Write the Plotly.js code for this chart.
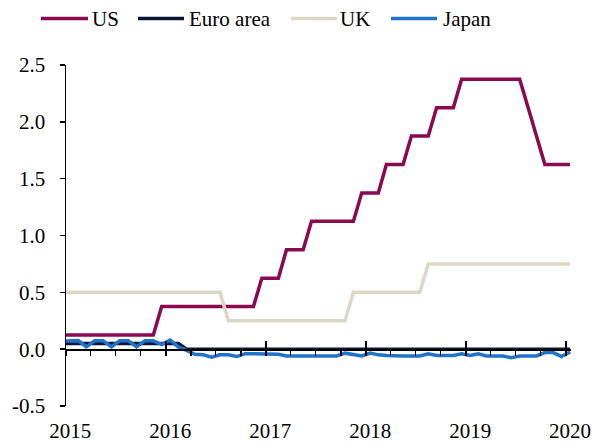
<!DOCTYPE html>
<html>
<head>
<meta charset="utf-8">
<script src="https://cdn.plot.ly/plotly-3.0.1.min.js"></script>
<style>
html,body{margin:0;padding:0;background:#fff;}
#chart{width:595px;height:446px;}
</style>
</head>
<body>
<div id="chart"></div>
<script>
// Monthly observations, Dec 2014 .. Jan 2020
const months = [
  "2014-12",
  "2015-01","2015-02","2015-03","2015-04","2015-05","2015-06","2015-07","2015-08","2015-09","2015-10","2015-11","2015-12",
  "2016-01","2016-02","2016-03","2016-04","2016-05","2016-06","2016-07","2016-08","2016-09","2016-10","2016-11","2016-12",
  "2017-01","2017-02","2017-03","2017-04","2017-05","2017-06","2017-07","2017-08","2017-09","2017-10","2017-11","2017-12",
  "2018-01","2018-02","2018-03","2018-04","2018-05","2018-06","2018-07","2018-08","2018-09","2018-10","2018-11","2018-12",
  "2019-01","2019-02","2019-03","2019-04","2019-05","2019-06","2019-07","2019-08","2019-09","2019-10","2019-11","2019-12",
  "2020-01"
];

const us = [
  0.125,
  0.125,0.125,0.125,0.125,0.125,0.125,0.125,0.125,0.125,0.125,0.125,0.375,
  0.375,0.375,0.375,0.375,0.375,0.375,0.375,0.375,0.375,0.375,0.375,0.625,
  0.625,0.625,0.875,0.875,0.875,1.125,1.125,1.125,1.125,1.125,1.125,1.375,
  1.375,1.375,1.625,1.625,1.625,1.875,1.875,1.875,2.125,2.125,2.125,2.375,
  2.375,2.375,2.375,2.375,2.375,2.375,2.375,2.125,1.875,1.625,1.625,1.625,
  1.625
];

const euro = [
  0.05,
  0.05,0.05,0.05,0.05,0.05,0.05,0.05,0.05,0.05,0.05,0.05,0.05,
  0.05,0.05,0,0,0,0,0,0,0,0,0,0,
  0,0,0,0,0,0,0,0,0,0,0,0,
  0,0,0,0,0,0,0,0,0,0,0,0,
  0,0,0,0,0,0,0,0,0,0,0,0,
  0
];

const uk = [
  0.5,
  0.5,0.5,0.5,0.5,0.5,0.5,0.5,0.5,0.5,0.5,0.5,0.5,
  0.5,0.5,0.5,0.5,0.5,0.5,0.5,0.25,0.25,0.25,0.25,0.25,
  0.25,0.25,0.25,0.25,0.25,0.25,0.25,0.25,0.25,0.25,0.5,0.5,
  0.5,0.5,0.5,0.5,0.5,0.5,0.5,0.75,0.75,0.75,0.75,0.75,
  0.75,0.75,0.75,0.75,0.75,0.75,0.75,0.75,0.75,0.75,0.75,0.75,
  0.75
];

const japan = [
  0.07,
  0.075,0.075,0.02,0.075,0.075,0.02,0.075,0.075,0.02,0.075,0.075,0.04,
  0.08,0.02,-0.01,-0.045,-0.05,-0.07,-0.05,-0.05,-0.065,-0.04,-0.04,-0.04,
  -0.04,-0.045,-0.06,-0.06,-0.06,-0.06,-0.06,-0.06,-0.06,-0.035,-0.05,-0.06,
  -0.035,-0.05,-0.055,-0.06,-0.06,-0.06,-0.06,-0.04,-0.055,-0.055,-0.055,-0.04,
  -0.055,-0.04,-0.06,-0.06,-0.06,-0.075,-0.06,-0.06,-0.06,-0.03,-0.03,-0.065,
  -0.025
];

const seriesNames = ["US","Euro area","UK","Japan"];
const seriesColors = ["#8a0a52","#0b1538","#ddd8c6","#1f74c9"];
const yearLabels = ["2015","2016","2017","2018","2019","2020"];
const yTickVals = [-0.5,0,0.5,1,1.5,2,2.5];
const yTickText = ["-0.5","0.0","0.5","1.0","1.5","2.0","2.5"];

// helpers: mid-month timestamps (points sit between tick marks)
function fmt(ms){ return new Date(ms).toISOString().slice(0,19).replace('T',' '); }
function midMonth(ym){
  const y = +ym.slice(0,4), m = +ym.slice(5,7)-1;
  const a = Date.UTC(y,m,1), b = Date.UTC(y,m+1,1);
  return fmt((a+b)/2);
}
const xs = months.map(midMonth);
const yearStarts = yearLabels.map(y => y + "-01-01");
const yearLabelPos = yearLabels.map(y => midMonth(y + "-01"));
const quarterStarts = [];
yearLabels.forEach(y => { if (y !== "2020") ["04","07","10"].forEach(q => quarterStarts.push(y+"-"+q+"-01")); });

const xRange = ["2015-01-01", "2020-01-20"];
const FONT = "Liberation Serif, Times New Roman, serif";

const allSeries = [us, euro, uk, japan];
const traces = allSeries.map((vals, i) => ({
  x: xs, y: vals, type: "scatter", mode: "lines", name: seriesNames[i],
  line: {color: seriesColors[i], width: 3.5},
  showlegend: false, hoverinfo: "x+y+name"
}));
// helper traces so the zero-line axes get their own subplots
traces.push({x: [xRange[0]], y: [null], xaxis: "x2", yaxis: "y", mode: "lines", showlegend: false, hoverinfo: "skip"});
traces.push({x: [xRange[0]], y: [null], xaxis: "x3", yaxis: "y", mode: "lines", showlegend: false, hoverinfo: "skip"});

// manual legend (pixel layout converted to paper coords)
const L = 66, R = 571, T = 65, B = 406;
const pw = R - L, ph = B - T;
const px = v => (v - L) / pw;
const py = v => (B - v) / ph;
const legLineX = [[41,88],[138,184],[291,337],[391,437]];
const legTextX = [91,188,339,442];
const legY = 18.5;
const shapes = [];
const annotations = [];
seriesNames.forEach((n, i) => {
  shapes.push({type: "line", xref: "paper", yref: "paper",
    x0: px(legLineX[i][0]), x1: px(legLineX[i][1]), y0: py(legY), y1: py(legY),
    line: {color: seriesColors[i], width: 3.5}});
  annotations.push({xref: "paper", yref: "paper", x: px(legTextX[i]), y: py(legY + 0.5),
    xanchor: "left", yanchor: "middle", text: n, showarrow: false,
    font: {family: FONT, size: 21, color: "#000"}, borderpad: 0});
});

const layout = {
  width: 595, height: 446,
  margin: {l: L, r: 595 - R, t: T, b: 446 - B, pad: 0},
  paper_bgcolor: "#fff", plot_bgcolor: "#fff",
  showlegend: false,
  font: {family: FONT, size: 21, color: "#000"},
  xaxis: {
    type: "date", range: xRange, showgrid: false, zeroline: false, showline: false,
    tickmode: "array", tickvals: yearLabelPos, ticktext: yearLabels,
    ticks: "", ticklabelstandoff: 10,
    tickfont: {family: FONT, size: 21, color: "#000"}
  },
  xaxis2: {
    type: "date", range: xRange, overlaying: "x", anchor: "free", position: 1/6,
    showgrid: false, zeroline: false, showline: true, linecolor: "#000", linewidth: 1.5,
    tickmode: "array", tickvals: quarterStarts.concat(yearStarts), showticklabels: false,
    ticks: "outside", ticklen: 5, tickwidth: 1.5, tickcolor: "#000"
  },
  xaxis3: {
    type: "date", range: xRange, overlaying: "x", anchor: "free", position: 1/6,
    showgrid: false, zeroline: false, showline: false,
    tickmode: "array", tickvals: yearStarts, showticklabels: false,
    ticks: "inside", ticklen: 8, tickwidth: 1.5, tickcolor: "#000"
  },
  yaxis: {
    range: [-0.5, 2.5], showgrid: false, zeroline: false,
    showline: true, linecolor: "#000", linewidth: 1.5,
    tickmode: "array", tickvals: yTickVals, ticktext: yTickText,
    ticks: "outside", ticklen: 5, tickwidth: 1.5, tickcolor: "#000",
    ticklabelstandoff: 10,
    tickfont: {family: FONT, size: 21, color: "#000"}
  },
  shapes: shapes,
  annotations: annotations
};

Plotly.newPlot("chart", traces, layout, {displayModeBar: false, staticPlot: true});
</script>
</body>
</html>
